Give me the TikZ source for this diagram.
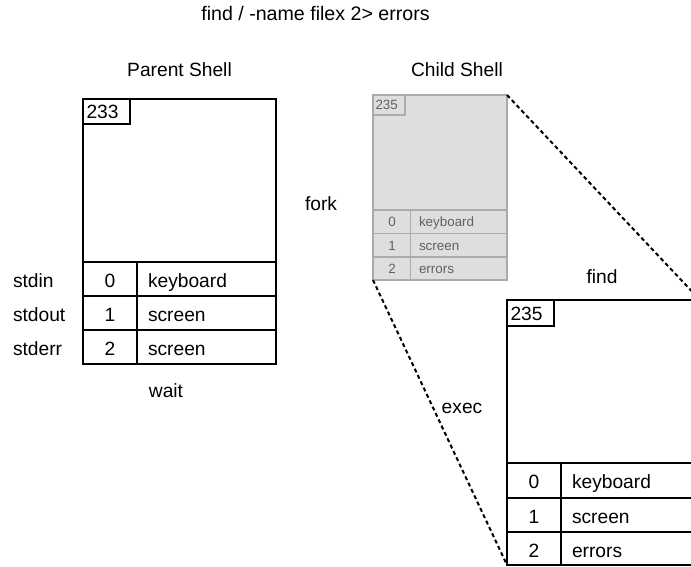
\documentclass[tikz,border=0pt]{standalone}
\usepackage{fontspec}
\setmainfont{Liberation Sans}
\begin{document}
\begin{tikzpicture}[x=1bp,y=-1bp,
  txt/.style={inner sep=0pt,outer sep=0pt,anchor=base,font=\fontsize{19.2bp}{23bp}\selectfont},
  ltxt/.style={txt,anchor=base west},
  small/.style={inner sep=0pt,outer sep=0pt,anchor=base,text=black!62,font=\fontsize{13.4bp}{16bp}\selectfont},
  lsmall/.style={small,anchor=base west},
  frame/.style={draw=black,line width=2.1bp,inner sep=0pt,outer sep=0pt,fill=white},
  rule/.style={draw=black,line width=2.1bp},
  tag/.style={draw=black,line width=1.6bp},
  ghost/.style={draw=black!33,line width=1.3bp,fill=black!13,inner sep=0pt,outer sep=0pt},
  ghostrule/.style={draw=black!33,line width=1.3bp},
  link/.style={draw=black,line width=2bp,dash pattern=on 4bp off 3bp}]
\useasboundingbox (0,0) rectangle (691,567);
\clip (0,0) rectangle (691,567);

% command line
\node[txt,font=\fontsize{19.6bp}{23bp}\selectfont] (cmd) at (315.5,21) {find / -name filex 2> errors};

% ---- parent shell (pid 233) ----
\node[txt] (ptitle) at (179.5,77) {Parent Shell};
\node[frame,minimum width=193bp,minimum height=265bp] (parent) at (179.5,231.5) {};
\draw[rule] (83,262) -- (276,262) (83,296) -- (276,296) (83,330) -- (276,330);
\draw[rule] (137,262) -- (137,364);
\draw[tag] (130,99) -- (130,124) -- (83,124);
\node[ltxt] (ppid) at (86.5,119) {233};
\node[txt] (p0) at (110,287) {0};
\node[txt] (p1) at (110,321) {1};
\node[txt] (p2) at (110,355) {2};
\node[ltxt] (pk) at (148,287) {keyboard};
\node[ltxt] (ps1) at (148,321) {screen};
\node[ltxt] (ps2) at (148,355) {screen};
\node[ltxt] (sin) at (13,287) {stdin};
\node[ltxt] (sout) at (13,321) {stdout};
\node[ltxt] (serr) at (13,355) {stderr};
\node[txt] (wait) at (166,397) {wait};

% ---- child shell after fork (pid 235) ----
\node[txt] (ctitle) at (457,77) {Child Shell};
\node[txt] (fork) at (321,210) {fork};
\node[ghost,minimum width=134bp,minimum height=185bp] (child) at (440,187.5) {};
\draw[ghostrule] (373,210) -- (507,210) (373,233.5) -- (507,233.5) (373,257) -- (507,257);
\draw[ghostrule] (410.5,210) -- (410.5,280);
\draw[ghostrule] (405,95) -- (405,115) -- (373,115);
\node[lsmall] (cpid) at (375.5,110) {235};
\node[small] (c0) at (392,226.5) {0};
\node[small] (c1) at (392,250) {1};
\node[small] (c2) at (392,273.5) {2};
\node[lsmall] (ck) at (419,226.5) {keyboard};
\node[lsmall] (cs) at (419,250) {screen};
\node[lsmall] (ce) at (419,273.5) {errors};

% ---- find after exec (pid 235) ----
\node[txt] (ftitle) at (602,283) {find};
\node[frame,minimum width=193bp,minimum height=265bp] (find) at (603.5,432.5) {};
\draw[rule] (507,463) -- (700,463) (507,498) -- (700,498) (507,532) -- (700,532);
\draw[rule] (561,463) -- (561,565);
\draw[tag] (554,300) -- (554,326) -- (507,326);
\node[ltxt] (fpid) at (510.5,320.5) {235};
\node[txt] (f0) at (534,488) {0};
\node[txt] (f1) at (534,523) {1};
\node[txt] (f2) at (534,557) {2};
\node[ltxt] (fk) at (572,488) {keyboard};
\node[ltxt] (fs) at (572,523) {screen};
\node[ltxt] (fe) at (572,557) {errors};

% exec expands the child into the find process
\draw[link] (child.north east) -- (find.north east);
\draw[link] (child.south west) -- (find.south west);
\node[txt] (exec) at (462,413) {exec};
\end{tikzpicture}
\end{document}
